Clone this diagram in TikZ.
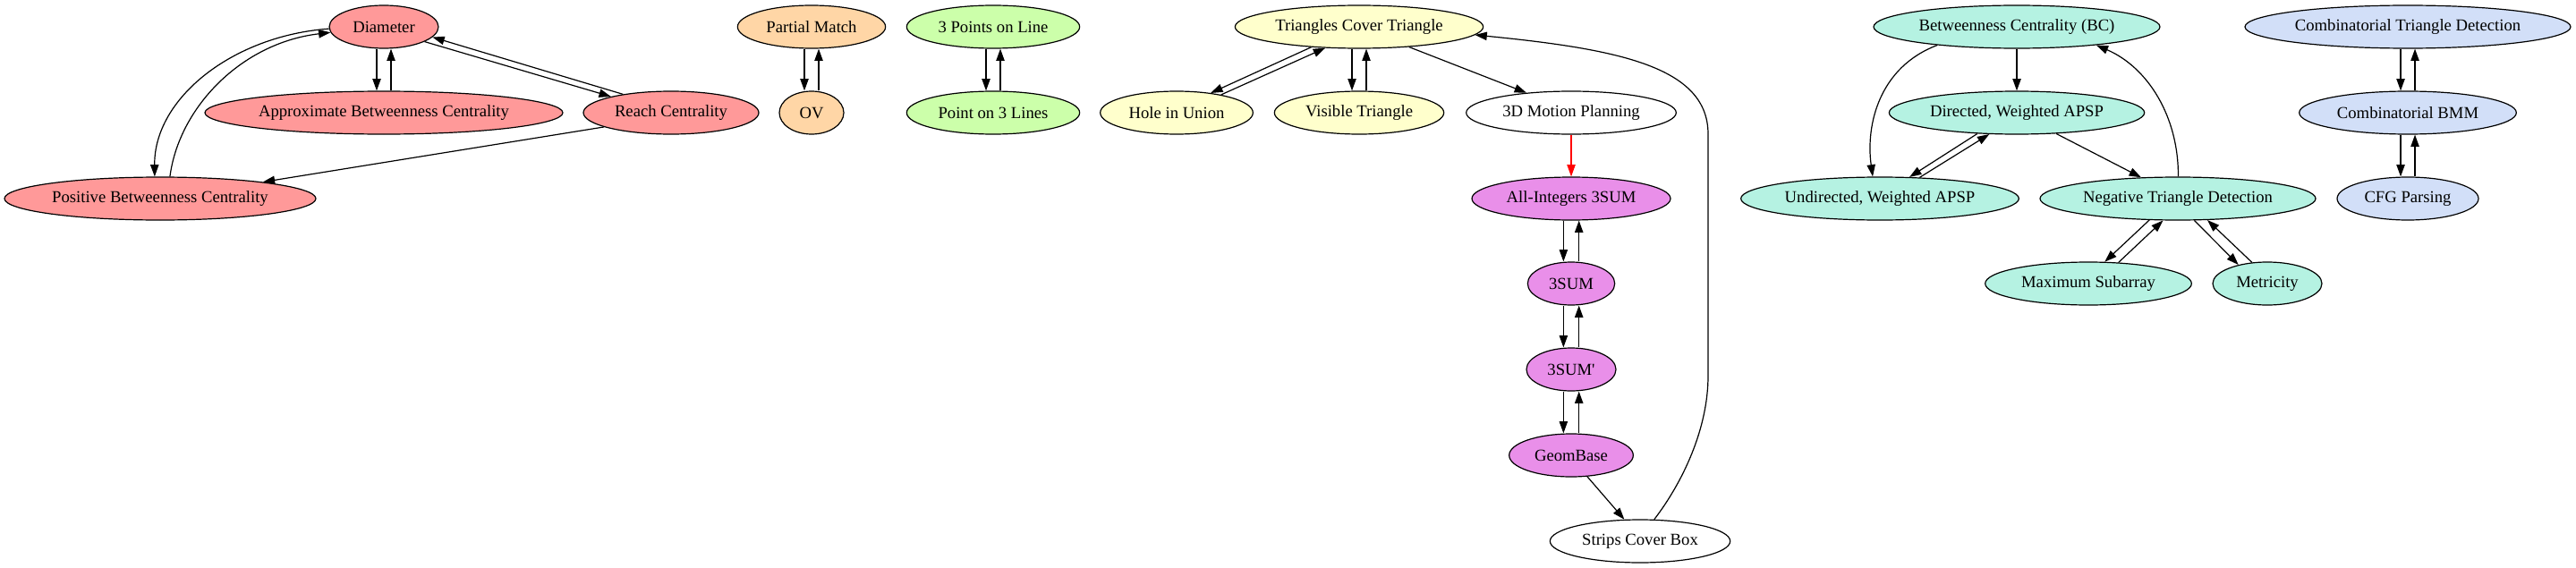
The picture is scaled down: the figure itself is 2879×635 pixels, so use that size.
\documentclass[tikz,border=0pt]{standalone}
\usepackage{fontspec}
\setmainfont{Liberation Serif}
\usetikzlibrary{shapes.geometric,arrows.meta}

\definecolor{redfill}{HTML}{FF9999}
\definecolor{peachfill}{HTML}{FFD6A6}
\definecolor{greenfill}{HTML}{CCFFAA}
\definecolor{yellowfill}{HTML}{FFFFCC}
\definecolor{violetfill}{HTML}{E98FE9}
\definecolor{tealfill}{HTML}{B5F2E2}
\definecolor{bluefill}{HTML}{D2DFF8}

\tikzset{
  prob/.style={ellipse, draw, inner sep=0pt, minimum height=36pt,
    font=\fontsize{14pt}{16pt}\selectfont},
  >={Triangle[length=10pt,width=7pt]},
}

\begin{document}
\begin{tikzpicture}[x=0.75pt, y=-0.75pt, line width=0.9pt]
    \useasboundingbox (0,0) rectangle (2879,635);

    % centrality group
    \node[prob, fill=redfill, minimum width=91.5pt] (diam) at (429,30) {Diameter};
    \node[prob, fill=redfill, minimum width=300pt] (approx) at (429,126) {Approximate Betweenness Centrality};
    \node[prob, fill=redfill, minimum width=147pt] (reach) at (750,126) {Reach Centrality};
    \node[prob, fill=redfill, minimum width=261pt] (pos) at (179,222) {Positive Betweenness Centrality};

    % OV group
    \node[prob, fill=peachfill, minimum width=124pt] (pm) at (907,30) {Partial Match};
    \node[prob, fill=peachfill, minimum width=54pt] (ov) at (907,126) {OV};

    % lines group
    \node[prob, fill=greenfill, minimum width=145pt] (tpl) at (1110,30) {3 Points on Line};
    \node[prob, fill=greenfill, minimum width=145pt] (pl) at (1110,126) {Point on 3 Lines};

    % triangles group
    \node[prob, fill=yellowfill, minimum width=208pt] (tct) at (1519,30) {Triangles Cover Triangle};
    \node[prob, fill=yellowfill, minimum width=128pt] (hole) at (1315,126) {Hole in Union};
    \node[prob, fill=yellowfill, minimum width=142pt] (vis) at (1519,126) {Visible Triangle};
    \node[prob, minimum width=176pt] (motion) at (1756,126) {3D Motion Planning};

    % 3SUM group
    \node[prob, fill=violetfill, minimum width=166.5pt] (allint) at (1756,222) {All-Integers 3SUM};
    \node[prob, fill=violetfill, minimum width=73pt] (sum) at (1756,317) {3SUM};
    \node[prob, fill=violetfill, minimum width=75pt] (sump) at (1756,413) {3SUM\textquotesingle};
    \node[prob, fill=violetfill, minimum width=104pt] (geom) at (1756,509) {GeomBase};
    \node[prob, minimum width=151pt] (strips) at (1833,605) {Strips Cover Box};

    % APSP group
    \node[prob, fill=tealfill, minimum width=240pt] (bc) at (2254,30) {Betweenness Centrality (BC)};
    \node[prob, fill=tealfill, minimum width=214pt] (dir) at (2254,126) {Directed, Weighted APSP};
    \node[prob, fill=tealfill, minimum width=233pt] (undir) at (2101,222) {Undirected, Weighted APSP};
    \node[prob, fill=tealfill, minimum width=231pt] (neg) at (2434,222) {Negative Triangle Detection};
    \node[prob, fill=tealfill, minimum width=173pt] (maxsub) at (2334,317) {Maximum Subarray};
    \node[prob, fill=tealfill, minimum width=91.5pt] (metr) at (2534,317) {Metricity};

    % BMM group
    \node[prob, fill=bluefill, minimum width=273pt] (ctd) at (2691,30) {Combinatorial Triangle Detection};
    \node[prob, fill=bluefill, minimum width=182pt] (bmm) at (2691,126) {Combinatorial BMM};
    \node[prob, fill=bluefill, minimum width=118.5pt] (cfg) at (2691,222) {CFG Parsing};

    % reductions
    \draw[->] ([xshift=-6pt]diam.south) -- ([xshift=-6pt]approx.north);
    \draw[->] ([xshift=6pt]approx.north) -- ([xshift=6pt]diam.south);
    \draw[->] (diam.-20) -- (reach.165);
    \draw[->] (reach.159) -- (diam.-12);
    \draw[->] (diam.182) .. controls (260,40) and (172,110) .. (pos.104);
    \draw[->] (pos.66) .. controls (200,120) and (270,48) .. (diam.186);
    \draw[->] (reach.192) -- (pos);

    \draw[->] ([xshift=-6pt]pm.south) -- ([xshift=-6pt]ov.north);
    \draw[->] ([xshift=6pt]ov.north) -- ([xshift=6pt]pm.south);
    \draw[->] ([xshift=-6pt]tpl.south) -- ([xshift=-6pt]pl.north);
    \draw[->] ([xshift=6pt]pl.north) -- ([xshift=6pt]tpl.south);

    \draw[->] (tct.203) -- (hole.30);
    \draw[->] (hole.22) -- (tct.212);
    \draw[->] ([xshift=-6pt]tct.south) -- ([xshift=-6pt]vis.north);
    \draw[->] ([xshift=6pt]vis.north) -- ([xshift=6pt]tct.south);
    \draw[->] (tct.-22) -- (motion.156);
    \draw[->, red] (motion.south) -- (allint.north);

    \draw[->] ([xshift=-6.5pt]allint.south) -- ([xshift=-6.5pt]sum.north);
    \draw[->] ([xshift=6.5pt]sum.north) -- ([xshift=6.5pt]allint.south);
    \draw[->] ([xshift=-6.5pt]sum.south) -- ([xshift=-6.5pt]sump.north);
    \draw[->] ([xshift=6.5pt]sump.north) -- ([xshift=6.5pt]sum.south);
    \draw[->] ([xshift=-6.5pt]sump.south) -- ([xshift=-6.5pt]geom.north);
    \draw[->] ([xshift=6.5pt]geom.north) -- ([xshift=6.5pt]sump.south);
    \draw[->] (geom.-53) -- (strips.126);
    \draw[->] (strips.57) .. controls (1880,540) and (1909,480) .. (1909,420)
        -- (1909,150) .. controls (1909,75) and (1810,55) .. (tct.-4);

    \draw[->] (bc.south) -- (dir.north);
    \draw[->] (bc.193) .. controls (2100,75) and (2085,140) .. (undir.108);
    \draw[->] (dir.208) -- (undir.36);
    \draw[->] (undir.28) -- (dir.218);
    \draw[->] (dir.-28) -- (neg.150);
    \draw[->] (neg.89) .. controls (2435,130) and (2400,75) .. (bc.-13.5);
    \draw[->] (neg.217) -- (maxsub.53);
    \draw[->] (maxsub.35) -- (neg.236);
    \draw[->] (neg.-53) -- (metr.147);
    \draw[->] (metr.126) -- (neg.-36);

    \draw[->] ([xshift=-6pt]ctd.south) -- ([xshift=-6pt]bmm.north);
    \draw[->] ([xshift=6pt]bmm.north) -- ([xshift=6pt]ctd.south);
    \draw[->] ([xshift=-6pt]bmm.south) -- ([xshift=-6pt]cfg.north);
    \draw[->] ([xshift=6pt]cfg.north) -- ([xshift=6pt]bmm.south);
\end{tikzpicture}
\end{document}
